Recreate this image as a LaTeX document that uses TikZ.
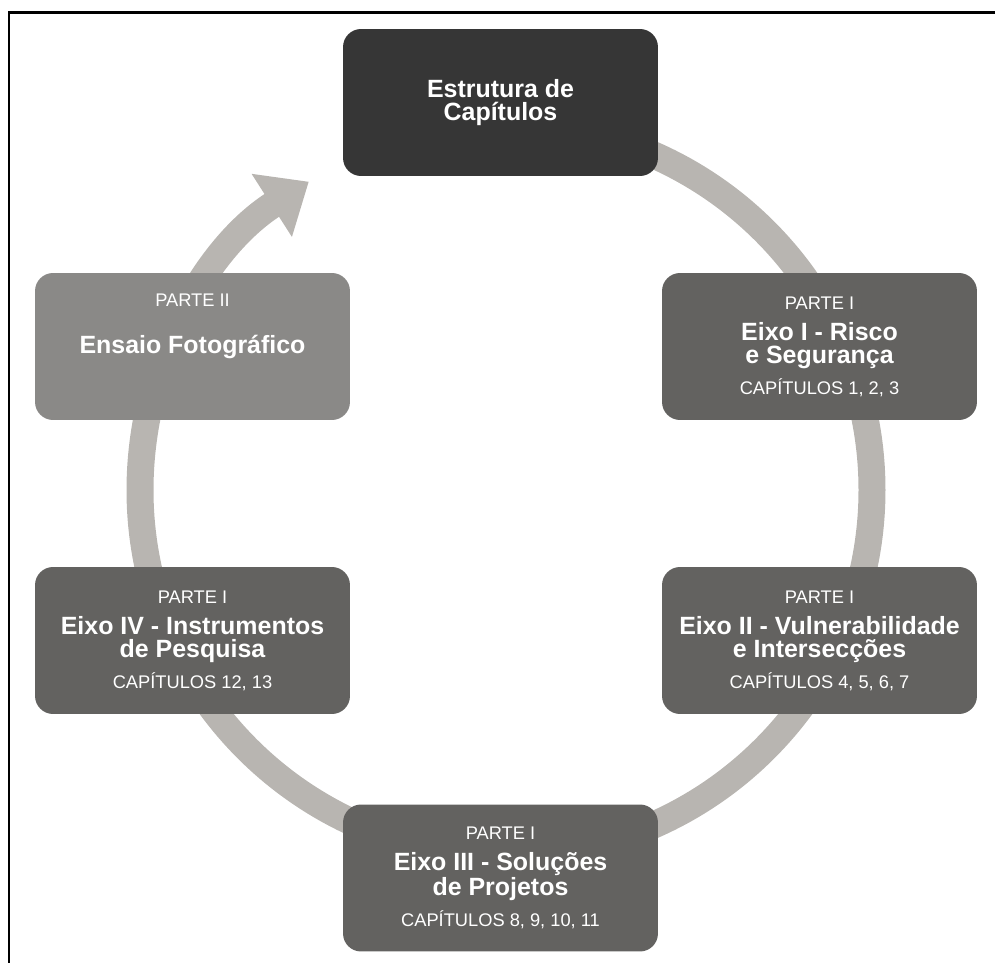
\documentclass[tikz,border=0pt]{standalone}
\usepackage{fontspec}
\setmainfont{Liberation Sans}
\usepackage{xcolor}
\usetikzlibrary{arrows.meta}
\definecolor{ringgray}{RGB}{184,181,177}
\definecolor{boxgray}{RGB}{99,98,96}
\definecolor{photogray}{RGB}{138,137,135}
\definecolor{topgray}{RGB}{54,54,54}
\newcommand{\eixofont}{\fontsize{14.2}{13.1}\selectfont\bfseries}
\newcommand{\capfont}{\fontsize{10.4}{13.1}\selectfont}
\tikzset{
  capbox/.style={rounded corners=0.36cm, minimum width=6.3cm, minimum height=2.94cm,
    inner sep=0pt, text=white, align=center, fill=boxgray, font=\capfont},
  ring/.style={ringgray, line width=0.54cm, -{Triangle[width=1.44cm, length=0.88cm]}}
}

\begin{document}
\begin{tikzpicture}[x=0.02cm, y=0.02cm]
	\useasboundingbox (0,0) rectangle (995,-963);
	% Frame (top and left only)
	\draw[line width=0.06cm] (9,-963) -- (9,-12.5) -- (995,-12.5);

	% Ring with arrow
	\draw[ring] (506,-124) arc[start angle=90, end angle=-237.4, radius=366];

	% Top box
	\node[capbox, fill=topgray] (estrutura) at (500.5,-102.5) {{\eixofont Estrutura de}\\{\eixofont Cap\'itulos}};

	% Boxes of the parts
	\node[capbox] (eixoI) at (819.5,-346.5) {PARTE I\\[4.5pt]{\eixofont Eixo I - Risco}\\{\eixofont e Seguran\c{c}a}\\[4.5pt]CAP\'ITULOS 1, 2, 3};
	\node[capbox] (eixoII) at (819.5,-640.5) {PARTE I\\[4.5pt]{\eixofont Eixo II - Vulnerabilidade}\\{\eixofont e Intersec\c{c}\~oes}\\[4.5pt]CAP\'ITULOS 4, 5, 6, 7};
	\node[capbox] (eixoIII) at (500.5,-878) {PARTE I\\[4.5pt]{\eixofont Eixo III - Solu\c{c}\~oes}\\{\eixofont de Projetos}\\[4.5pt]CAP\'ITULOS 8, 9, 10, 11};
	\node[capbox] (eixoIV) at (192.5,-640.5) {PARTE I\\[4.5pt]{\eixofont Eixo IV - Instrumentos}\\{\eixofont de Pesquisa}\\[4.5pt]CAP\'ITULOS 12, 13};
	\node[capbox, fill=photogray] (ensaio) at (192.5,-346.5) {PARTE II\\[13.5pt]{\eixofont Ensaio Fotogr\'afico}\\[11.6pt]\phantom{CAP\'ITULOS 1, 2, 3}};
\end{tikzpicture}
\end{document}
